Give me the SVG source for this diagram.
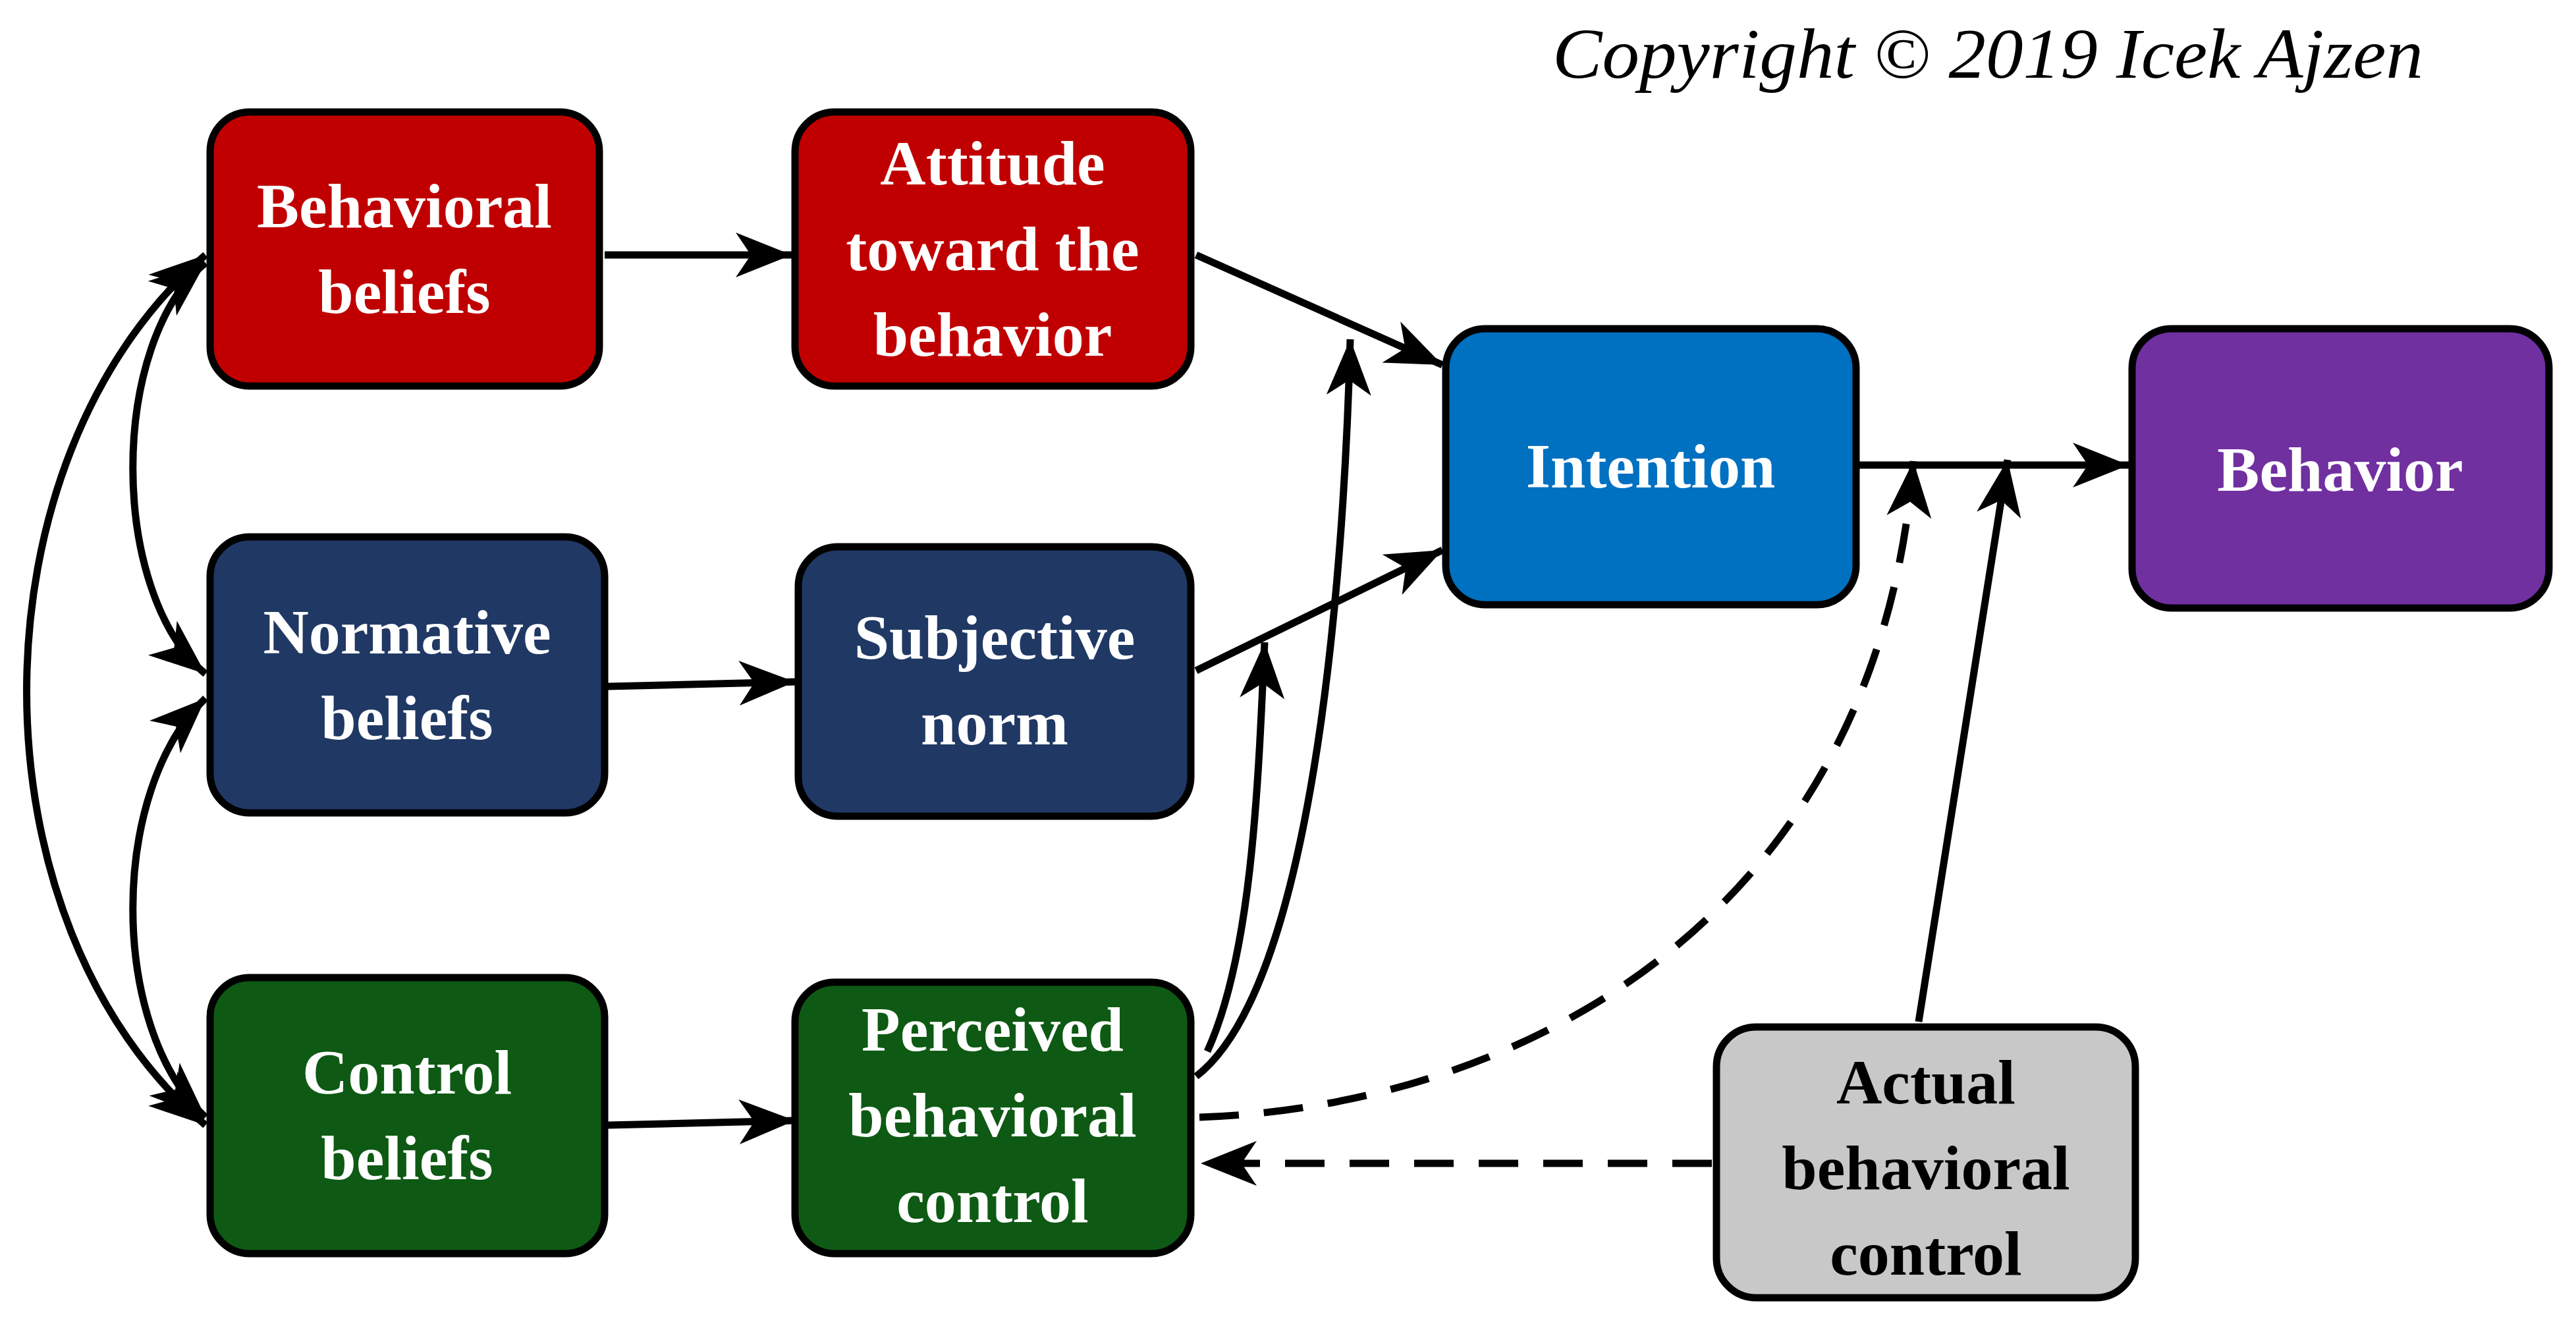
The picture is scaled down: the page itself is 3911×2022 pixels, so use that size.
<svg xmlns="http://www.w3.org/2000/svg" width="3911" height="2022" viewBox="0 0 3911 2022">
<style>
.box{stroke:#000;stroke-width:11}
.t{font-family:"Liberation Serif",serif;font-weight:bold;font-size:96px;fill:#fff;text-anchor:middle}
.dk{fill:#000}
.c{fill:none;stroke:#000;stroke-width:11}
.d{stroke-dasharray:60 38}
</style>
<defs>
<marker id="a" markerUnits="userSpaceOnUse" markerWidth="100" markerHeight="90" viewBox="-90 -40 100 80" refX="0" refY="0" orient="auto-start-reverse">
<path d="M0,0 L-85,-34 L-62,0 L-85,34 Z" fill="#000"/>
</marker>
</defs>
<rect width="3911" height="2022" fill="#fff"/>
<text x="2357" y="118" font-family="Liberation Serif,serif" font-style="italic" font-size="108" textLength="1322" lengthAdjust="spacingAndGlyphs">Copyright © 2019 Icek Ajzen</text>
<g id="bb"><rect class="box" x="319" y="170" width="591" height="416" rx="60" fill="#C00000"/><text class="t" x="614" y="345">Behavioral</text><text class="t" x="614" y="475">beliefs</text></g>
<g id="att"><rect class="box" x="1207" y="170" width="601" height="416" rx="60" fill="#C00000"/><text class="t" x="1507" y="280">Attitude</text><text class="t" x="1507" y="410">toward the</text><text class="t" x="1507" y="540">behavior</text></g>
<g id="nb"><rect class="box" x="319" y="815" width="599" height="419" rx="60" fill="#203864"/><text class="t" x="618" y="992">Normative</text><text class="t" x="618" y="1122">beliefs</text></g>
<g id="sn"><rect class="box" x="1212" y="830" width="596" height="409" rx="60" fill="#203864"/><text class="t" x="1510" y="1000">Subjective</text><text class="t" x="1510" y="1130">norm</text></g>
<g id="cb"><rect class="box" x="319" y="1484" width="599" height="419" rx="60" fill="#0E5A14"/><text class="t" x="618" y="1660">Control</text><text class="t" x="618" y="1790">beliefs</text></g>
<g id="pbc"><rect class="box" x="1207" y="1491" width="601" height="412" rx="60" fill="#0E5A14"/><text class="t" x="1507" y="1595">Perceived</text><text class="t" x="1507" y="1725">behavioral</text><text class="t" x="1507" y="1855">control</text></g>
<g id="int"><rect class="box" x="2195" y="499" width="623" height="419" rx="60" fill="#0070C0"/><text class="t" x="2506" y="740">Intention</text></g>
<g id="beh"><rect class="box" x="3237" y="499" width="633" height="424" rx="60" fill="#7030A0"/><text class="t" x="3553" y="745">Behavior</text></g>
<g id="abc"><rect class="box" x="2606" y="1559" width="636" height="411" rx="60" fill="#C8C8C8"/><text class="t dk" x="2924" y="1675">Actual</text><text class="t dk" x="2924" y="1805">behavioral</text><text class="t dk" x="2924" y="1935">control</text></g>
<g id="connectors">
<path class="c" marker-end="url(#a)" d="M918,387 L1202,387"/>
<path class="c" marker-end="url(#a)" d="M923,1042 L1207,1035"/>
<path class="c" marker-end="url(#a)" d="M923,1708 L1207,1701"/>
<path class="c" marker-end="url(#a)" d="M1816,387 L2190,554"/>
<path class="c" marker-end="url(#a)" d="M1816,1018 L2190,835"/>
<path class="c" marker-end="url(#a)" d="M2823,706 L3232,706"/>
<path class="c" marker-end="url(#a)" d="M1816,1634 C1990,1500 2040,900 2050,515"/>
<path class="c" marker-end="url(#a)" d="M1833,1596 C1900,1450 1910,1200 1920,975"/>
<path class="c" marker-end="url(#a)" d="M2913,1551 L3048,698"/>
<path class="c d" marker-end="url(#a)" d="M1821,1696 C2300,1680 2850,1400 2905,700"/>
<path class="c d" marker-end="url(#a)" d="M2599,1766 L1823,1766"/>
<path class="c" marker-start="url(#a)" marker-end="url(#a)" d="M312,399 C165,520 165,900 312,1023"/>
<path class="c" marker-start="url(#a)" marker-end="url(#a)" d="M312,1060 C165,1200 165,1560 312,1696"/>
<path class="c" marker-start="url(#a)" marker-end="url(#a)" d="M312,387 C-50,700 -50,1400 312,1708"/>
</g>
</svg>
